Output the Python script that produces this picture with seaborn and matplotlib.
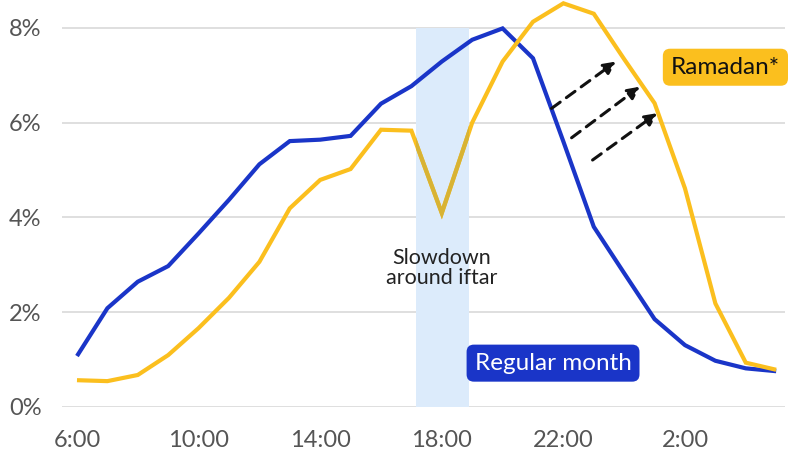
import matplotlib
matplotlib.use("Agg")
import matplotlib.pyplot as plt
import seaborn as sns
import pandas as pd
import numpy as np
from matplotlib.patches import Rectangle

hours = list(range(6, 30))
regular = [1.07, 2.08, 2.64, 2.97, 3.66, 4.37, 5.12, 5.61, 5.64, 5.72, 6.40, 6.77,
           7.29, 7.75, 7.99, 7.36, 5.60, 3.80, 2.82, 1.85, 1.30, 0.97, 0.81, 0.75]
ramadan = [0.56, 0.54, 0.67, 1.09, 1.66, 2.30, 3.06, 4.19, 4.79, 5.02, 5.85, 5.83,
           4.09, 6.00, 7.29, 8.13, 8.52, 8.30, 7.34, 6.41, 4.61, 2.18, 0.93, 0.78]
tick_hours = [6, 10, 14, 18, 22, 26]
tick_labels = ["6:00", "10:00", "14:00", "18:00", "22:00", "2:00"]
y_ticks = [0, 2, 4, 6, 8]
y_labels = ["0%", "2%", "4%", "6%", "8%"]
iftar_span = (17.15, 18.9)
arrows = [((21.61, 6.30), (23.73, 7.29)),
          ((22.27, 5.68), (24.52, 6.76)),
          ((22.96, 5.21), (25.09, 6.20))]

BLUE = "#1a35c8"
YELLOW = "#fbbf1e"
SPAN = "#dcebfb"

df = pd.DataFrame({
    "hour": hours * 2,
    "share": regular + ramadan,
    "series": ["Regular month"] * len(hours) + ["Ramadan*"] * len(hours),
})

sns.set_theme(style="white")
plt.rcParams["font.family"] = ["Lato", "DejaVu Sans"]

fig = plt.figure(figsize=(8, 4.5), dpi=100)
ax = fig.add_axes([62 / 800, (450 - 406.7) / 450, (785 - 62) / 800, 406.7 / 450])

span = Rectangle((iftar_span[0], 0), iftar_span[1] - iftar_span[0], 8,
                 facecolor=SPAN, edgecolor="none", zorder=1)
ax.add_patch(span)

sns.lineplot(data=df, x="hour", y="share", hue="series",
             palette={"Regular month": BLUE, "Ramadan*": YELLOW},
             hue_order=["Regular month", "Ramadan*"],
             linewidth=3, legend=False, ax=ax, zorder=3)
for ln in ax.lines:
    ln.set_solid_joinstyle("miter")
    ln.set_solid_capstyle("butt")

# darkened yellow inside the iftar band (multiply-like blend)
clip = Rectangle((iftar_span[0], 0), iftar_span[1] - iftar_span[0], 8,
                 transform=ax.transData, facecolor="none", edgecolor="none")
ax.add_patch(clip)
l2, = ax.plot(hours, ramadan, color="#d8b334", lw=3, zorder=4)
l2.set_solid_joinstyle("miter")
l2.set_clip_path(clip)

ax.set_xlim(5.507, 29.29)
ax.set_ylim(0, 8.59)
ax.set_xticks(tick_hours)
ax.set_xticklabels(tick_labels)
ax.set_yticks(y_ticks)
ax.set_yticklabels(y_labels)
ax.yaxis.grid(True, color="#d9d9d9", lw=1.2, zorder=0)
ax.set_axisbelow(True)
for s in ax.spines.values():
    s.set_visible(False)
ax.tick_params(axis="x", length=0, pad=17, labelsize=17, labelcolor="#555555")
ax.tick_params(axis="y", length=0, pad=38, labelsize=17, labelcolor="#555555")
for lab in ax.get_yticklabels():
    lab.set_horizontalalignment("left")
ax.set_xlabel("")
ax.set_ylabel("")

ax.text(18.0, 2.93, "Slowdown\naround iftar", ha="center", va="center",
        fontsize=15.5, color="#222222", linespacing=1.0, zorder=5)

ax.text(21.66, 0.92, "Regular month", ha="center", va="center", fontsize=17.5,
        color="white", zorder=6,
        bbox=dict(boxstyle="round,pad=0.33,rounding_size=0.3", fc=BLUE, ec="none"))
ax.text(27.33, 7.17, "Ramadan*", ha="center", va="center", fontsize=17.5,
        color="#111111", zorder=6,
        bbox=dict(boxstyle="round,pad=0.33,rounding_size=0.3", fc=YELLOW, ec="none"))

for (x0, y0), (x1, y1) in arrows:
    ax.annotate("", xy=(x1, y1), xytext=(x0, y0), zorder=7,
                arrowprops=dict(arrowstyle="-|>,head_length=0.6,head_width=0.3",
                                color="#111111", lw=2.2, linestyle=(0, (3.5, 2.5)),
                                shrinkA=0, shrinkB=0))

fig.savefig("out.png", dpi=100)
